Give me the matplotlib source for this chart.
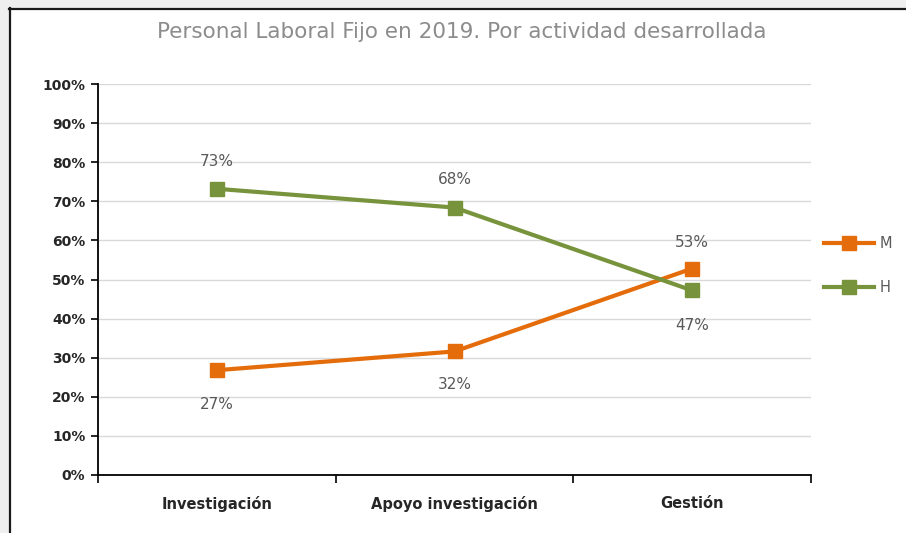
import matplotlib.pyplot as plt
from matplotlib.patches import Rectangle
from matplotlib.lines import Line2D

categories = ["Investigación", "Apoyo investigación", "Gestión"]
mujeres = [26.8, 31.6, 52.8]
hombres = [73.2, 68.4, 47.2]
etiquetas_m = ["27%", "32%", "53%"]
etiquetas_h = ["73%", "68%", "47%"]
y_ticks = list(range(0, 101, 10))

ORANGE = "#E46C0A"
GREEN = "#77933C"
GREY_TXT = "#595959"

fig = plt.figure(figsize=(9.06, 5.33), dpi=100)
fig.patch.set_facecolor("#efefef")
# marco blanco con borde oscuro arriba y a la izquierda
fig.patches.append(Rectangle((9 / 906, 0), 1, 1 - 8 / 533, transform=fig.transFigure,
                             facecolor="white", edgecolor="none", zorder=-5))
fig.lines.append(Line2D([9 / 906, 1], [1 - 8.5 / 533] * 2, transform=fig.transFigure,
                        color="#1a1a1a", lw=1.6, zorder=-4))
fig.lines.append(Line2D([9.5 / 906] * 2, [0, 1 - 8 / 533], transform=fig.transFigure,
                        color="#1a1a1a", lw=1.6, zorder=-4))

ax = fig.add_axes([98 / 906, 1 - 475 / 533, (811 - 98) / 906, (475 - 84) / 533])
ax.set_facecolor("white")

x = [0.5, 1.5, 2.5]
ax.plot(x, mujeres, color=ORANGE, lw=3, marker="s", ms=10.5, mec=ORANGE, mfc=ORANGE,
        label="M", zorder=3)
ax.plot(x, hombres, color=GREEN, lw=3, marker="s", ms=10.5, mec=GREEN, mfc=GREEN,
        label="H", zorder=3)

# posiciones de las etiquetas: arriba (+) o abajo (-)
off_m = [-25, -24, 19]
off_h = [20, 20, -25]
for xi, v, t, o in zip(x, mujeres, etiquetas_m, off_m):
    ax.annotate(t, (xi, v), xytext=(0, o), textcoords="offset points",
                ha="center", va="center", fontsize=11, color=GREY_TXT)
for xi, v, t, o in zip(x, hombres, etiquetas_h, off_h):
    ax.annotate(t, (xi, v), xytext=(0, o), textcoords="offset points",
                ha="center", va="center", fontsize=11, color=GREY_TXT)

ax.set_xlim(0, 3)
ax.set_ylim(0, 100)
ax.set_yticks(y_ticks)
ax.set_yticklabels([f"{v}%" for v in y_ticks], fontsize=10, fontweight="bold", color="#262626")
ax.set_xticks([0, 1, 2, 3])
ax.set_xticklabels([])
ax.set_xticks(x, minor=True)
ax.set_xticklabels(categories, minor=True, fontsize=10.5, fontweight="bold", color="#262626")
ax.tick_params(axis="x", which="minor", length=0, pad=15)
ax.tick_params(axis="x", which="major", length=6, width=1.2, color="black")
ax.tick_params(axis="y", length=5, width=1.2, color="black", pad=4)

ax.grid(axis="y", color="#d9d9d9", lw=1)
ax.set_axisbelow(True)
for s in ["top", "right"]:
    ax.spines[s].set_visible(False)
ax.spines["left"].set_linewidth(1.3)
ax.spines["bottom"].set_linewidth(1.3)

fig.text(462 / 906, 1 - 32 / 533, "Personal Laboral Fijo en 2019. Por actividad desarrollada",
         ha="center", va="center", fontsize=15.5, color="#8c8c8c")

ax.legend(loc="center left", bbox_to_anchor=(1.0, 0.535), frameon=False, fontsize=10.5,
          labelcolor=GREY_TXT, handlelength=3.4, handletextpad=0.4, labelspacing=2.0)

fig.savefig("out.png", dpi=100)
